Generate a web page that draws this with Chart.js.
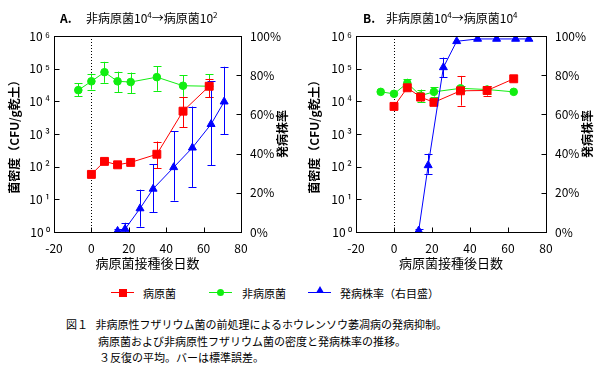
<!DOCTYPE html>
<html>
<head>
<meta charset="utf-8">
<script src="https://cdn.jsdelivr.net/npm/chart.js@4.4.0/dist/chart.umd.min.js"></script>
<style>
  body { margin: 0; background: #fff; }
  #wrap { position: relative; width: 600px; height: 376px; font-family: 'Noto Sans CJK JP', sans-serif; color: #000; overflow: hidden; }
  canvas { position: absolute; top: 0; }
  .ttl { position: absolute; top: 9px; font-size: 12px; line-height: 18px; white-space: nowrap; }
  .ttl b { position: absolute; top: 0; }
  .ttl sup { font-size: 8px; vertical-align: 5px; line-height: 0; }
  .lg { position: absolute; top: 285px; font-size: 11px; line-height: 16px; white-space: nowrap; }
  .mk { position: absolute; top: 0; width: 23px; height: 16px; }
  .mk .ln { position: absolute; left: 0; top: 7px; width: 23px; height: 1px; }
  .cap { position: absolute; left: 66px; top: 316px; font-size: 11px; line-height: 16.7px; white-space: nowrap; }
</style>
</head>
<body>
<div id="wrap">
  <canvas id="chartA" width="300" height="276" style="left:0px"></canvas>
  <canvas id="chartB" width="300" height="276" style="left:300px"></canvas>

  <div class="ttl" style="left:60px"><b style="left:0">A.</b><span style="position:absolute;left:26px">非病原菌10<sup>4</sup>→病原菌10<sup>2</sup></span></div>
  <div class="ttl" style="left:363px"><b style="left:0">B.</b><span style="position:absolute;left:23px">非病原菌10<sup>4</sup>→病原菌10<sup>4</sup></span></div>

  <div class="lg" style="left:111px">
    <div class="mk"><div class="ln" style="background:#ff0000"></div><div style="position:absolute;left:8px;top:4px;width:8px;height:8px;background:#ff0000"></div></div>
    <span style="position:absolute;left:32px">病原菌</span>
  </div>
  <div class="lg" style="left:209px">
    <div class="mk"><div class="ln" style="background:#11ee11"></div><div style="position:absolute;left:8px;top:4px;width:7px;height:7px;border-radius:50%;background:#11ee11"></div></div>
    <span style="position:absolute;left:33px">非病原菌</span>
  </div>
  <div class="lg" style="left:308px">
    <div class="mk"><div class="ln" style="background:#0000ff"></div><div style="position:absolute;left:8px;top:1px;width:0;height:0;border-left:4px solid transparent;border-right:4px solid transparent;border-bottom:7px solid #0000ff"></div></div>
    <span style="position:absolute;left:32px">発病株率（右目盛）</span>
  </div>

  <div class="cap">
    <div>図１&nbsp;&nbsp;&nbsp;非病原性フザリウム菌の前処理によるホウレンソウ萎凋病の発病抑制。</div>
    <div style="padding-left:32px">病原菌および非病原性フザリウム菌の密度と発病株率の推移。</div>
    <div style="padding-left:33px">３反復の平均。バーは標準誤差。</div>
  </div>
</div>

<script>
// ---- data ----
// panel A : non-pathogen 10^4 -> pathogen 10^2
const pathDaysA = [0, 7, 14, 21, 35, 49, 63];
const pathA     = [58, 145, 114, 135, 240, 5000, 29000];
const pathLoA   = [null, null, null, null, 89, 1620, 13500];
const pathHiA   = [null, null, null, null, 589, 13800, 49000];

const nonDaysA = [-7, 0, 7, 14, 21, 35, 49, 63];
const nonA     = [22000, 41000, 78000, 41000, 39000, 55000, 30000, 29000];
const nonLoA   = [14500, 23000, 37000, 19000, 18000, 21000, 13800, 13200];
const nonHiA   = [35500, 71000, 162000, 81000, 76000, 120000, 63000, 68000];

const disDaysA = [14, 18, 26, 33, 44, 54, 64, 71];
const disA     = [0.5, 1.5, 12, 22, 33, 43, 55, 66.5];
const disLoA   = [0, 0, 2.7, 10, 16, 23, 34, 50];
const disHiA   = [1.7, 4.7, 21.6, 34.5, 51.5, 64, 77, 84.3];

// panel B : non-pathogen 10^4 -> pathogen 10^4
const pathDaysB = [0, 7, 14, 21, 35, 49, 63];
const pathB     = [7000, 26000, 13500, 9300, 21000, 21500, 49000];
const pathLoB   = [null, null, null, null, 7400, 15000, null];
const pathHiB   = [null, null, null, null, 60000, 29500, null];

const nonDaysB = [-7, 0, 7, 14, 21, 35, 49, 63];
const nonB     = [19500, 17000, 36000, 15000, 19500, 25000, 23000, 19500];
const nonLoB   = [null, null, 27000, 9500, 14000, 20000, 17000, null];
const nonHiB   = [null, null, 49000, 23000, 27000, 30000, 30000, null];

const disDaysB = [13, 18, 26, 33, 44, 54, 64, 71];
const disB     = [0.7, 34, 84, 97.3, 98.5, 98.5, 98.5, 98.5];
const disLoB   = [0, 29.7, 79, null, null, null, null, null];
const disHiB   = [1.5, 40, 89, null, null, null, null, null];

const xTicks = [-20, 0, 20, 40, 60, 80];
const supDigits = ['⁰', '¹', '²', '³', '⁴', '⁵', '⁶'];

const RED = '#ff0000', GREEN = '#11ee11', BLUE = '#0000ff';

Chart.defaults.font.family = "'Noto Sans CJK JP', sans-serif";
Chart.defaults.color = '#000';

function pts(days, vals) {
  return days.map((d, i) => ({ x: d, y: vals[i] }));
}

// frame, inward ticks, dotted line at day 0, error bars, right title
const decorPlugin = {
  id: 'decor',
  beforeDatasetsDraw(chart) {
    const ctx = chart.ctx, a = chart.chartArea;
    const x = chart.scales.x;
    ctx.save();
    // dotted line at inoculation day
    ctx.strokeStyle = '#000';
    ctx.lineWidth = 1;
    ctx.setLineDash([1, 2]);
    const x0 = Math.round(x.getPixelForValue(0)) + 0.5;
    ctx.beginPath();
    ctx.moveTo(x0, a.top);
    ctx.lineTo(x0, a.bottom);
    ctx.stroke();
    ctx.setLineDash([]);
    // error bars
    chart.data.datasets.forEach((ds, i) => {
      if (!ds.errLo) return;
      const meta = chart.getDatasetMeta(i);
      const ys = chart.scales[meta.yAxisID];
      ctx.strokeStyle = ds.borderColor;
      ctx.lineWidth = 1;
      ds.data.forEach((p, j) => {
        const lo = ds.errLo[j], hi = ds.errHi[j];
        if (lo == null || hi == null) return;
        const px = Math.round(x.getPixelForValue(p.x)) + 0.5;
        const y1 = ys.getPixelForValue(lo), y2 = ys.getPixelForValue(hi);
        ctx.beginPath();
        ctx.moveTo(px, y1); ctx.lineTo(px, y2);
        ctx.moveTo(px - 4, Math.round(y1) + 0.5); ctx.lineTo(px + 4, Math.round(y1) + 0.5);
        ctx.moveTo(px - 4, Math.round(y2) + 0.5); ctx.lineTo(px + 4, Math.round(y2) + 0.5);
        ctx.stroke();
      });
    });
    ctx.restore();
  },
  afterDraw(chart) {
    const ctx = chart.ctx, a = chart.chartArea;
    const x = chart.scales.x, y = chart.scales.y, yR = chart.scales.yR;
    ctx.save();
    ctx.strokeStyle = '#000';
    ctx.lineWidth = 1;
    const L = Math.round(a.left) + 0.5, R = Math.round(a.right) + 0.5;
    const T = Math.round(a.top) + 0.5, B = Math.round(a.bottom) + 0.5;
    ctx.strokeRect(L, T, R - L, B - T);
    ctx.beginPath();
    y.ticks.forEach(t => {
      const py = Math.round(y.getPixelForValue(t.value)) + 0.5;
      ctx.moveTo(L, py); ctx.lineTo(L + 5, py);
    });
    yR.ticks.forEach(t => {
      const py = Math.round(yR.getPixelForValue(t.value)) + 0.5;
      ctx.moveTo(R, py); ctx.lineTo(R - 5, py);
    });
    x.ticks.forEach(t => {
      const px = Math.round(x.getPixelForValue(t.value)) + 0.5;
      ctx.moveTo(px, B); ctx.lineTo(px, B - 5);
    });
    ctx.stroke();
    // right axis title
    ctx.fillStyle = '#000';
    ctx.font = "bold 12px 'Noto Sans CJK JP', sans-serif";
    ctx.textAlign = 'center';
    ctx.textBaseline = 'middle';
    ctx.translate(a.right + 41.5, (a.top + a.bottom) / 2);
    ctx.rotate(-Math.PI / 2);
    ctx.fillText('発病株率', 0, 0);
    ctx.restore();
  }
};

function makeChart(id, d, leftW, rightW) {
  return new Chart(document.getElementById(id), {
    type: 'line',
    data: {
      datasets: [
        { label: '非病原菌', data: pts(d.nonDays, d.non), yAxisID: 'y', errLo: d.nonLo, errHi: d.nonHi,
          borderColor: GREEN, backgroundColor: GREEN, borderWidth: 1, pointStyle: 'circle', pointRadius: 3.8, order: 3 },
        { label: '病原菌', data: pts(d.pathDays, d.path), yAxisID: 'y', errLo: d.pathLo, errHi: d.pathHi,
          borderColor: RED, backgroundColor: RED, borderWidth: 1, pointStyle: 'rect', pointRadius: 5.6, order: 2 },
        { label: '発病株率', data: pts(d.disDays, d.dis), yAxisID: 'yR', errLo: d.disLo, errHi: d.disHi,
          borderColor: BLUE, backgroundColor: BLUE, borderWidth: 1, pointStyle: 'triangle', pointRadius: 4.6, order: 1 }
      ]
    },
    options: {
      responsive: false,
      animation: false,
      layout: { padding: { top: 36, left: 0, right: 0, bottom: 0 } },
      plugins: { legend: { display: false }, tooltip: { enabled: false } },
      scales: {
        x: {
          type: 'linear', min: -20, max: 80,
          afterBuildTicks(s) { s.ticks = xTicks.map(v => ({ value: v })); },
          ticks: { padding: 9, font: { size: 12 }, color: '#000' },
          grid: { display: false, drawTicks: false },
          border: { display: false },
          title: { display: true, text: '病原菌接種後日数', font: { size: 13 }, color: '#000', padding: { top: 0, bottom: 5 } },
          afterFit(s) { s.height = 44; }
        },
        y: {
          type: 'logarithmic', position: 'left', min: 1, max: 1e6,
          afterBuildTicks(s) { s.ticks = [0, 1, 2, 3, 4, 5, 6].map(e => ({ value: Math.pow(10, e) })); },
          ticks: { padding: 4, font: { size: 12 }, color: '#000',
                   callback: v => '10\u2009' + supDigits[Math.round(Math.log10(v))] },
          grid: { display: false, drawTicks: false },
          border: { display: false },
          title: { display: true, text: '菌密度（CFU/g乾土）', font: { size: 12, weight: 'bold' }, color: '#000', padding: { top: 7, bottom: 0 } },
          afterFit(s) { s.width = leftW; }
        },
        yR: {
          type: 'linear', position: 'right', min: 0, max: 100,
          ticks: { stepSize: 20, padding: 9, font: { size: 12 }, color: '#000', callback: v => v + '%' },
          grid: { display: false, drawTicks: false },
          border: { display: false },
          afterFit(s) { s.width = rightW; }
        }
      }
    },
    plugins: [decorPlugin]
  });
}

makeChart('chartA', {
  pathDays: pathDaysA, path: pathA, pathLo: pathLoA, pathHi: pathHiA,
  nonDays: nonDaysA, non: nonA, nonLo: nonLoA, nonHi: nonHiA,
  disDays: disDaysA, dis: disA, disLo: disLoA, disHi: disHiA
}, 54, 59);

makeChart('chartB', {
  pathDays: pathDaysB, path: pathB, pathLo: pathLoB, pathHi: pathHiB,
  nonDays: nonDaysB, non: nonB, nonLo: nonLoB, nonHi: nonHiB,
  disDays: disDaysB, dis: disB, disLo: disLoB, disHi: disHiB
}, 56, 54);
</script>
</body>
</html>
